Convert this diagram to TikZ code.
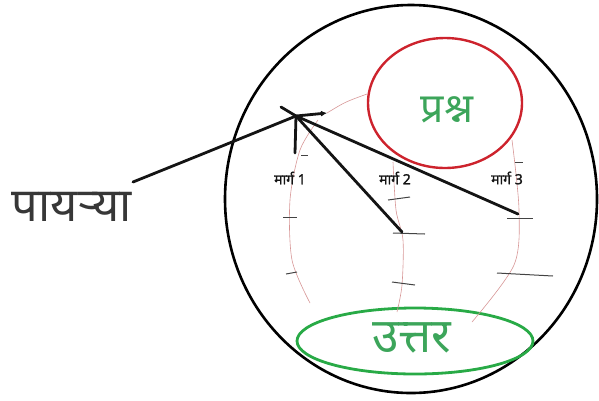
\documentclass[tikz,border=0pt]{standalone}
\usepackage{fontspec}
\newfontfamily\deva[Script=Devanagari]{Noto Sans}
\newfontfamily\devabold[Script=Devanagari,FakeBold=1.6]{Noto Sans}
\usetikzlibrary{shapes.geometric,arrows.meta}
\definecolor{redc}{RGB}{205,35,45}
\definecolor{greenc}{RGB}{40,170,70}
\definecolor{greent}{RGB}{60,165,90}
\definecolor{pathc}{RGB}{215,150,150}
\definecolor{inkc}{RGB}{20,20,20}
\begin{document}
\begin{tikzpicture}[x=1pt,y=-1pt,
  bigring/.style={ellipse,draw=black,line width=2.6pt,minimum width=372pt,minimum height=388pt,inner sep=0pt},
  qring/.style={ellipse,draw=redc,line width=2.4pt,minimum width=154pt,minimum height=130pt,inner sep=0pt},
  aring/.style={ellipse,draw=greenc,line width=2.8pt,minimum width=236pt,minimum height=66pt,inner sep=0pt},
  heavy/.style={draw=inkc,line width=2.8pt,line cap=round},
  trail/.style={draw=pathc,line width=0.6pt},
  tick/.style={draw=inkc!80,line width=1pt},
  margtxt/.style={font=\devabold\fontsize{14}{17}\selectfont,text=inkc,inner sep=0pt},
  bigtxt/.style={font=\deva\fontsize{47}{54}\selectfont,text=inkc!85,inner sep=0pt}
]
\useasboundingbox (0,0) rectangle (599,400);
% big circle
\node[bigring] (world) at (411,199) {};
% question circle
\node[qring] (q) at (445,103) {};
\node[font=\deva\fontsize{41}{46}\selectfont,text=greent,inner sep=0pt] (qt) at (447,110) {प्रश्न};
% answer ellipse
\node[aring] (a) at (415,341) {};
\node[font=\deva\fontsize{48}{54}\selectfont,text=greent,inner sep=0pt] (at) at (412,338) {उत्तर};
% stairs label
\node[bigtxt] (stairs) at (72,207) {पायऱ्या};
% hub and ends
\coordinate (hub) at (296,116);
\coordinate (ptr) at (133,182);
\coordinate (tl) at (281,107);
\coordinate (arr) at (327,113);
\coordinate (e1) at (295,153);
\coordinate (e2) at (402,232);
\coordinate (e3) at (518,214);
% red trails
\draw[trail] (arr) .. controls (345,102) .. (367,94);
\draw[trail] plot[smooth] coordinates {(318,120) (300,150) (290,200) (292,260) (310,303)};
\draw[trail] plot[smooth] coordinates {(393,162) (396,210) (403,240) (402,285) (397,312)};
\draw[trail] plot[smooth] coordinates {(512,140) (519,210) (514,265) (472,322)};
% heavy black lines
\draw[heavy] (ptr) -- (200,155) -- (hub);
\draw[heavy] (tl) -- (hub);
\draw[heavy,-{Latex[length=6pt,width=6pt]}] (hub) -- (arr);
\draw[heavy] (hub) -- (e1);
\draw[heavy] (hub) -- (e2);
\draw[heavy] (hub) -- (e3);
% ticks
\draw[tick] (301,155) -- (308,155);
\draw[tick] (283,217) -- (297,217);
\draw[tick] (286,274) -- (297,272);
\draw[tick] (388,200) -- (410,197);
\draw[tick] (393,233) -- (425,234);
\draw[tick] (392,282) -- (415,285);
\draw[tick] (515,162) -- (523,162);
\draw[tick] (507,218) -- (533,218);
\draw[tick] (497,273) -- (553,276);
% route labels
\node[margtxt] (m1) at (290,178) {मार्ग 1};
\node[margtxt] (m2) at (395,178) {मार्ग 2};
\node[margtxt] (m3) at (507,178) {मार्ग 3};
\end{tikzpicture}
\end{document}
